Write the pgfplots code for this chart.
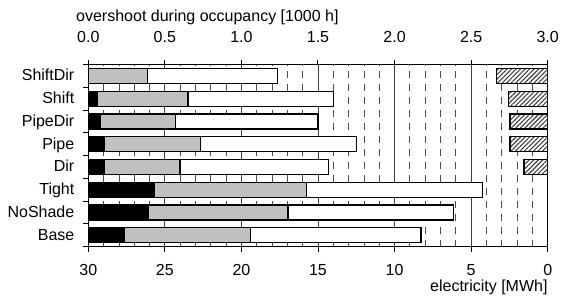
\documentclass[border=0pt]{standalone}
\usepackage{pgfplots}
\pgfplotsset{compat=1.18}
\usepackage{pgfplotstable}
\usetikzlibrary{patterns.meta}
\usepackage{fontspec}
\setmainfont{Liberation Sans}
\definecolor{barsilver}{HTML}{C0C0C0}

\pgfplotstableread{
cat blk gry wht
0 2.35 8.25 11.13
1 3.92 9.12 10.83
2 4.29 9.97 11.46
3 1.03 4.96 9.69
4 1.03 6.31 10.19
5 0.76 4.95 9.29
6 0.61 5.90 9.49
7 0.00 3.88 8.45
}\elec

\pgfplotstableread{
cat over
3 0.155
4 0.246
5 0.246
6 0.257
7 0.333
}\overshoot

\begin{document}
\begin{tikzpicture}[font=\fontsize{16bp}{19bp}\selectfont]
\begin{axis}[
  scale only axis, width=459.4bp, height=182.2bp,
  xmin=0, xmax=30, ymin=-0.5, ymax=7.5,
  xbar stacked, bar width=15bp,
  xtick={0,5,...,30}, xticklabels={30,25,20,15,10,5,0},
  xtick pos=bottom,
  minor x tick num=4,
  xmajorgrids, xminorgrids,
  major grid style={black!75, line width=0.8bp},
  minor grid style={black!70, line width=0.8bp, dash pattern=on 7bp off 6bp},
  minor tick length=0pt,
  tick align=outside, major tick length=5bp,
  ytick={-0.5,0.5,...,7.5}, yticklabels={,,,,,,,,,}, ytick pos=left,
  extra y ticks={0,1,2,3,4,5,6,7},
  extra y tick labels={Base,NoShade,Tight,Dir,Pipe,PipeDir,Shift,ShiftDir},
  extra y tick style={major tick length=0pt,
    yticklabel style={anchor=base east, inner sep=0pt, xshift=-13.8bp, yshift=-5bp}},
  xticklabel style={anchor=base, inner sep=0pt, yshift=-23.3bp},
  axis line style={line width=1bp},
  every tick/.style={black, line width=1bp},
  /pgf/number format/assume math mode=true,
  clip=false,
]
\addplot[fill=black, draw=black, line width=1.2bp] table[x=blk, y=cat]{\elec};
\addplot[fill=barsilver, draw=black, line width=1.2bp] table[x=gry, y=cat]{\elec};
\addplot[fill=white, draw=black, line width=1.2bp] table[x=wht, y=cat]{\elec};
\node[anchor=base west, inner sep=0pt, xshift=-12.3bp, yshift=43.5bp] at (rel axis cs:0,1) {overshoot during occupancy [1000 h]};
\node[anchor=base east, inner sep=0pt, yshift=-44.5bp] at (rel axis cs:1,0) {electricity [MWh]};
\end{axis}
\begin{axis}[
  scale only axis, width=459.4bp, height=182.2bp,
  xmin=0, xmax=3, x dir=reverse, ymin=-0.5, ymax=7.5,
  axis x line*=top, axis y line=none,
  xtick={0,0.5,...,3}, xticklabels={3.0,2.5,2.0,1.5,1.0,0.5,0.0},
  tick align=outside, major tick length=5bp,
  xticklabel style={anchor=base, inner sep=0pt, yshift=16.8bp},
  axis line style={line width=1bp},
  every tick/.style={black, line width=1bp},
  xbar, bar width=15bp,
  /pgf/number format/assume math mode=true,
]
\addplot[draw=black, line width=1.2bp, preaction={fill=white},
  pattern={Lines[angle=45, distance=3.2bp, line width=1.1bp]}, pattern color=black!75]
  table[x=over, y=cat]{\overshoot};
\end{axis}
\pgfresetboundingbox
\path[use as bounding box] (-88.3bp,-53.3bp) rectangle (473.7bp,246.7bp);
\end{tikzpicture}
\end{document}
